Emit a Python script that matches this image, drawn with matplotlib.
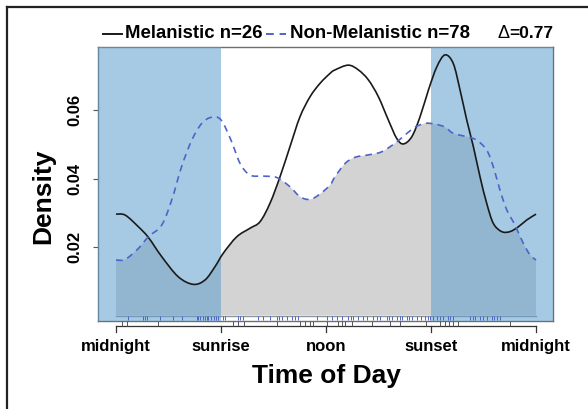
import numpy as np
import matplotlib
matplotlib.use("Agg")
import matplotlib.pyplot as plt
from matplotlib.lines import Line2D
from matplotlib.patches import Rectangle, PathPatch
from matplotlib.path import Path

# density curves (hour of day, density)
mel_hours = [0.00, 0.53, 1.28, 1.85, 2.61, 3.56, 4.42, 5.09, 5.66, 6.13, 6.90, 7.66,
             8.23, 8.80, 9.37, 9.94, 10.51, 11.09, 11.66, 12.23, 12.51, 13.27, 13.85,
             14.42, 14.99, 15.56, 16.04, 16.42, 16.90, 17.37, 17.85, 18.33, 18.80,
             19.27, 19.66, 20.04, 20.42, 20.80, 21.18, 21.56, 22.04, 22.51, 22.99,
             23.47, 24.00]
mel_density = [0.0296, 0.0293, 0.0259, 0.0228, 0.0172, 0.0113, 0.0091, 0.0104, 0.0143,
               0.0182, 0.0230, 0.0255, 0.0274, 0.0328, 0.0405, 0.0493, 0.0580, 0.0639,
               0.0678, 0.0707, 0.0717, 0.0731, 0.0717, 0.0688, 0.0639, 0.0571, 0.0517,
               0.0501, 0.0522, 0.0580, 0.0658, 0.0726, 0.0761, 0.0736, 0.0658, 0.0571,
               0.0493, 0.0405, 0.0328, 0.0269, 0.0245, 0.0245, 0.0259, 0.0279, 0.0296]

non_hours = [0.00, 0.53, 1.28, 1.85, 2.61, 3.18, 3.75, 4.33, 4.90, 5.47, 6.00, 6.57,
             7.09, 7.66, 8.42, 9.18, 9.94, 10.51, 11.09, 11.66, 12.23, 12.51, 13.09,
             13.66, 14.42, 15.18, 15.94, 16.51, 17.09, 17.66, 18.23, 18.80, 19.27,
             20.04, 20.61, 21.18, 21.56, 21.94, 22.33, 22.80, 23.27, 23.66, 24.00]
non_density = [0.0162, 0.0164, 0.0196, 0.0230, 0.0264, 0.0337, 0.0435, 0.0512, 0.0561,
               0.0579, 0.0571, 0.0512, 0.0444, 0.0410, 0.0407, 0.0403, 0.0376, 0.0347,
               0.0339, 0.0355, 0.0381, 0.0405, 0.0444, 0.0462, 0.0469, 0.0478, 0.0503,
               0.0527, 0.0550, 0.0561, 0.0559, 0.0550, 0.0532, 0.0522, 0.0512, 0.0483,
               0.0434, 0.0366, 0.0308, 0.0264, 0.0211, 0.0177, 0.0162]

# observation times (rug)
mel_obs = [0.32, 0.61, 2.42, 6.70, 6.95, 7.30, 9.20, 10.51, 10.80, 11.09, 11.28, 12.04,
           12.70, 12.90, 13.09, 13.50, 14.61, 15.66, 16.23, 17.70, 18.51, 18.80, 19.00,
           19.27, 19.56, 22.50]
non_obs = [0.67, 1.52, 1.66, 1.75, 2.51, 3.24, 3.75, 4.61, 4.70, 4.78, 4.95, 5.10, 5.20,
           5.28, 5.45, 5.62, 5.70, 5.80, 6.10, 6.23, 6.99, 7.10, 7.24, 8.13, 8.42, 8.80,
           9.18, 9.30, 9.47, 9.75, 10.04, 10.20, 10.42, 11.47, 12.04, 12.32, 12.61, 12.90,
           13.28, 13.40, 13.56, 13.85, 14.13, 14.32, 14.70, 14.90, 15.09, 15.47, 15.60,
           15.75, 16.04, 16.20, 16.33, 16.61, 16.75, 16.90, 17.18, 17.40, 17.66, 17.80,
           17.94, 18.10, 18.33, 18.50, 18.70, 18.99, 19.10, 19.27, 20.23, 20.40, 20.51,
           20.80, 20.95, 21.18, 21.47, 21.60, 21.75, 21.94]

tick_hours = [0, 6, 12, 18, 24]
tick_names = ["midnight", "sunrise", "noon", "sunset", "midnight"]
sunrise, sunset = 6, 18
y_ticks = [0.02, 0.04, 0.06]

W, H = 588, 409
plt.rcParams["font.family"] = ["Liberation Sans", "DejaVu Sans"]
plt.rcParams["font.weight"] = "bold"


def fx(px):
    return px / W


def fy(py):
    return 1 - py / H


def curve_path(xs, ys, closed=False):
    """Smooth path through the read points (Catmull-Rom as cubic Bezier)."""
    n = len(xs)
    verts = [(xs[0], ys[0])]
    codes = [Path.MOVETO]
    for i in range(n - 1):
        a = max(i - 1, 0)
        b = min(i + 2, n - 1)
        c1 = (xs[i] + (xs[i + 1] - xs[a]) / 6, ys[i] + (ys[i + 1] - ys[a]) / 6)
        c2 = (xs[i + 1] - (xs[b] - xs[i]) / 6, ys[i + 1] - (ys[b] - ys[i]) / 6)
        verts += [c1, c2, (xs[i + 1], ys[i + 1])]
        codes += [Path.CURVE4] * 3
    if closed:
        verts += [(xs[-1], 0), (xs[0], 0), (xs[0], ys[0])]
        codes += [Path.LINETO, Path.LINETO, Path.CLOSEPOLY]
    return Path(verts, codes)


fig = plt.figure(figsize=(W / 100, H / 100), dpi=100)
ax = fig.add_axes([fx(98), fy(321), fx(553) - fx(98), fy(47) - fy(321)])
ax.set_xlim(-1.03, 24.97)
ax.set_ylim(-0.0016, 0.0784)

# overlap area = area under both curves
under_mel = PathPatch(curve_path(mel_hours, mel_density, True), transform=ax.transData)
overlap = PathPatch(curve_path(non_hours, non_density, True), facecolor="#d3d3d3",
                    edgecolor="none", zorder=1)
ax.add_patch(overlap)
overlap.set_clip_path(under_mel)
ax.plot([0, 24], [0, 0], color="#8a96a3", lw=1, zorder=2)

# night shading
night = "#5d9fcc"
ax.add_patch(Rectangle((-2, -1), sunrise + 2, 2, color=night, alpha=0.55, lw=0, zorder=3))
ax.add_patch(Rectangle((sunset, -1), 10, 2, color=night, alpha=0.55, lw=0, zorder=3))

ax.add_patch(PathPatch(curve_path(mel_hours, mel_density), facecolor="none",
                       edgecolor="#1a1a1a", lw=1.2, zorder=5))
ax.add_patch(PathPatch(curve_path(non_hours, non_density), facecolor="none",
                       edgecolor="#4f64c8", lw=1.2, ls=(0, (4, 3)), zorder=5))

# rugs
ax.vlines(non_obs, -0.0012, 0.0, color="#4f64c8", lw=0.7, zorder=4)
ax.vlines(mel_obs, -0.0031, -0.0016, color="#555555", lw=0.7, zorder=4, clip_on=False)

for s in ax.spines.values():
    s.set_color("#707070")
    s.set_linewidth(1)

ax.set_xticks(tick_hours, tick_names)
ax.tick_params(axis="x", length=0, pad=13, labelsize=12)
ax.set_yticks(y_ticks, [f"{v:.2f}" for v in y_ticks])
ax.tick_params(axis="y", length=3.5, width=0.8, color="#555555", pad=8, labelsize=12,
               labelrotation=90)
for lab in ax.get_yticklabels():
    lab.set_verticalalignment("center")

# x axis line with ticks below the panel
xtr = ax.get_xaxis_transform()
ax.plot([tick_hours[0], tick_hours[-1]], [-0.02, -0.02], color="#333333", lw=0.9,
        transform=xtr, clip_on=False)
for t in tick_hours:
    ax.plot([t, t], [-0.02, -0.04], color="#333333", lw=0.9, transform=xtr, clip_on=False)

fig.text(fx(326), fy(376), "Time of Day", ha="center", va="center", fontsize=19)
fig.text(fx(43), fy(196), "Density", ha="center", va="center", fontsize=19, rotation=90)

# legend row above the panel
fig.add_artist(Line2D([fx(103), fx(122)], [fy(34), fy(34)], color="#1a1a1a", lw=1.4))
fig.text(fx(125), fy(34), "Melanistic n=26", ha="left", va="center", fontsize=13.4)
fig.add_artist(Line2D([fx(266), fx(286)], [fy(34), fy(34)], color="#4f64c8", lw=1.4,
                      ls=(0, (4, 3))))
fig.text(fx(290), fy(34), "Non-Melanistic n=78", ha="left", va="center", fontsize=13.4)
fig.text(fx(497), fy(34), "\u0394", ha="left", va="center", fontsize=13,
         fontweight="normal")
fig.text(fx(553), fy(34), "=0.77", ha="right", va="center", fontsize=12.5)

# outer frame (top and left edges visible)
fig.add_artist(Line2D([fx(7), fx(W + 5)], [fy(7), fy(7)], color="#222222", lw=1.6))
fig.add_artist(Line2D([fx(7), fx(7)], [fy(7), fy(H + 5)], color="#222222", lw=1.6))

fig.savefig("out.png", dpi=100)
